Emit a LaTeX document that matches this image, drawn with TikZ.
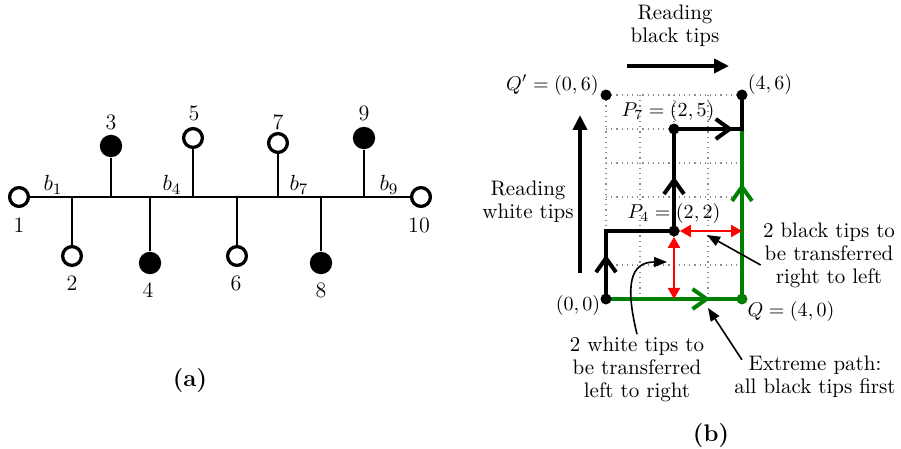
\documentclass[tikz,border=0pt]{standalone}
\usetikzlibrary{positioning,arrows.meta,decorations.markings}
\definecolor{pathgreen}{RGB}{0,128,0}
\tikzset{
  whitetip/.style={circle, draw, line width=1.65pt, fill=white, inner sep=0pt, minimum size=9.4pt},
  blacktip/.style={circle, fill=black, inner sep=0pt, minimum size=11.2pt},
  tiplabel/.style={font=\fontsize{11}{13}\selectfont, inner sep=1pt},
  stem/.style={line width=1.1pt},
  pathdot/.style={circle, fill=black, inner sep=0pt, minimum size=5.5pt},
  gridline/.style={black!45, dotted, line width=0.6pt},
  walk/.style={line width=2pt},
  greenwalk/.style={line width=2pt, draw=pathgreen},
  chev at/.style={postaction={decorate, decoration={markings, mark=at position #1 with {\arrow{Straight Barb[length=7pt,width=10pt]}}}}},
  redarrow/.style={{Triangle[length=5.5pt,width=6pt]}-{Triangle[length=5.5pt,width=6pt]}, red, line width=1.1pt},
  noteline/.style={-{Triangle[length=6.5pt,width=5pt]}, line width=0.8pt},
  bigarrow/.style={-{Triangle[length=7.5pt,width=7pt]}, line width=2pt},
  pointlabel/.style={inner sep=1pt},
  notetext/.style={align=center, inner sep=1pt, font=\fontsize{10.5}{11.5}\selectfont}
}
\begin{document}
\begin{tikzpicture}[x=0.5pt, y=-0.5pt]
  \useasboundingbox (0,0) rectangle (901,449);
  % (a) the tree
  \node[whitetip] (t1) at (19,197) {};
  \node[whitetip] (t2) at (72,256) {};
  \node[blacktip] (t3) at (111,146) {};
  \node[blacktip] (t4) at (150,263) {};
  \node[whitetip] (t5) at (193,138) {};
  \node[whitetip] (t6) at (237,256) {};
  \node[whitetip] (t7) at (278,143) {};
  \node[blacktip] (t8) at (321,263) {};
  \node[blacktip] (t9) at (364,138) {};
  \node[whitetip] (t10) at (421,197) {};
  \draw[stem] (t1) -- (t10);
  \draw[stem] (t2) -- (t2 |- t1);
  \draw[stem] (t3) -- (t3 |- t1);
  \draw[stem] (t4) -- (t4 |- t1);
  \draw[stem] (t5) -- (t5 |- t1);
  \draw[stem] (t6) -- (t6 |- t1);
  \draw[stem] (t7) -- (t7 |- t1);
  \draw[stem] (t8) -- (t8 |- t1);
  \draw[stem] (t9) -- (t9 |- t1);
  \node[tiplabel] (l1) at (19,225) {1};
  \node[tiplabel] (l2) at (72,283) {2};
  \node[tiplabel] (l3) at (111,122) {3};
  \node[tiplabel] (l4) at (148,290) {4};
  \node[tiplabel] (l5) at (194,113) {5};
  \node[tiplabel] (l6) at (236,283) {6};
  \node[tiplabel] (l7) at (278,122) {7};
  \node[tiplabel] (l8) at (321,290) {8};
  \node[tiplabel] (l9) at (364,113) {9};
  \node[tiplabel] (l10) at (419,225) {10};
  \node[tiplabel] (b1) at (53,185) {$b_1$};
  \node[tiplabel] (b4) at (172,185) {$b_4$};
  \node[tiplabel] (b7) at (299,185) {$b_7$};
  \node[tiplabel] (b9) at (389,185) {$b_9$};
  \node[font=\large\bfseries] (capa) at (190,381) {(a)};

  % (b) the lattice path
  \begin{scope}[shift={(606,299)}, x=17pt, y=17pt]
    \draw[gridline, step=1] (0,0) grid (4,6);
    \coordinate (O) at (0,0);
    \coordinate (c02) at (0,2);
    \coordinate (c20) at (2,0);
    \coordinate (c42) at (4,2);
    \coordinate (c45) at (4,5);
    \coordinate (P4) at (2,2);
    \coordinate (P7) at (2,5);
    \coordinate (Q) at (4,0);
    \coordinate (R) at (4,6);
    \draw[greenwalk, chev at=0.34, chev at=0.822] (O) -- (Q) -- (c45);
    \draw[walk, chev at=0.13, chev at=0.56, chev at=0.874] (O) -- (c02) -- (P4) -- (P7) -- (c45) -- (R);
    \node[pathdot] (dO) at (O) {};
    \node[pathdot] (dQp) at (0,6) {};
    \node[pathdot] (dR) at (R) {};
    \node[pathdot] (dP4) at (P4) {};
    \node[pathdot] (dP7) at (P7) {};
    \node[pathdot, fill=pathgreen] (dQ) at (Q) {};
    \draw[redarrow] (dP4) -- (c20);
    \draw[redarrow] (dP4) -- (c42);
  \end{scope}

  \node[pointlabel, anchor=east] (Qplab) at (601,85) {$Q'=(0,6)$};
  \node[pointlabel] (Rlab) at (770,85) {$(4,6)$};
  \node[pointlabel] (P7lab) at (668,112) {$P_7=(2,5)$};
  \node[pointlabel] (P4lab) at (674,214) {$P_4=(2,2)$};
  \node[pointlabel] (Olab) at (578,306) {$(0,0)$};
  \node[pointlabel] (Qlab) at (791,311) {$Q=(4,0)$};

  \node[notetext] (readblack) at (675,26) {Reading\\black tips};
  \coordinate (rbs) at (627,66);
  \coordinate (rbe) at (729,66);
  \draw[bigarrow] (rbs) -- (rbe);
  \node[notetext] (readwhite) at (528,202) {Reading\\white tips};
  \coordinate (rws) at (580,273);
  \coordinate (rwe) at (580,115);
  \draw[bigarrow] (rws) -- (rwe);

  \node[notetext] (blacknote) at (829,255) {2 black tips to\\be transferred\\right to left};
  \node[notetext] (whitenote) at (637,369) {2 white tips to\\be transferred\\left to right};
  \node[notetext] (extremenote) at (815,377) {Extreme path:\\all black tips first};
  \coordinate (btip) at (707,235);
  \coordinate (wtip) at (667,262);
  \coordinate (xtip) at (708,308);
  \draw[noteline] ([yshift=-5pt]blacknote.west) -- (btip);
  \draw[noteline] (whitenote.north) .. controls (625,285) and (630,262) .. (wtip);
  \draw[noteline] ([xshift=5pt,yshift=-3pt]extremenote.north west) -- (xtip);

  \node[font=\large\bfseries] (capb) at (711,436) {(b)};
\end{tikzpicture}
\end{document}
